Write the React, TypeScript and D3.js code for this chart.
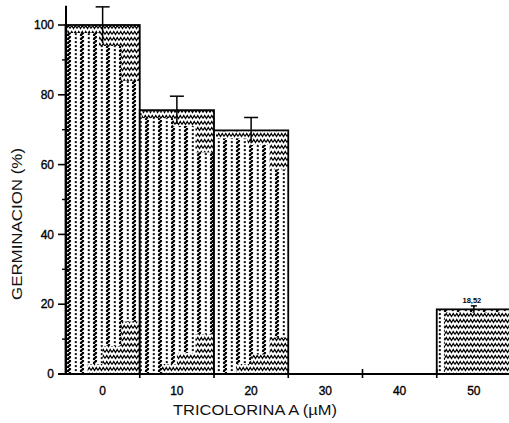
import React from "react";
import * as d3 from "d3";

const categories = ["0", "10", "20", "30", "40", "50"];
const values = [100, 75.6, 69.8, 0, 0, 18.52];
const errors = [5.2, 4.0, 3.7, 0, 0, 1.0];
const yTicks = [0, 20, 40, 60, 80, 100];
const yMinorTicks = [10, 30, 50, 70, 90];
const valueLabels = ["", "", "", "", "", "18,52"];

const W = 509;
const H = 423;

export default function App() {
  const x = d3.scaleBand<string>().domain(categories).range([65.5, 511]).padding(0);
  const y = d3.scaleLinear().domain([0, 100]).range([374, 25]);
  const bw = x.bandwidth();
  const font = "'Liberation Sans', Arial, sans-serif";

  const overlays = (bx: number, by: number, h: number) => {
    if (h < 120) {
      return [{ x: bx + 8, y: by + 3, w: bw - 8, h: h - 3 }];
    }
    return [
      { x: bx + 2, y: by + 1, w: bw - 2, h: 7 },
      { x: bx + bw * 0.45, y: by, w: bw * 0.55, h: h * 0.06 },
      { x: bx + bw * 0.75, y: by, w: bw * 0.25, h: h * 0.16 },
      { x: bx + bw * 0.3, y: by + h - 10, w: bw * 0.7, h: 10 },
      { x: bx + bw * 0.5, y: by + h - h * 0.08, w: bw * 0.5, h: h * 0.08 },
      { x: bx + bw * 0.75, y: by + h - h * 0.15, w: bw * 0.25, h: h * 0.15 },
    ];
  };

  return (
    <svg width={W} height={H} style={{ position: "absolute", left: 0, top: 0, background: "#fff" }}>
      <defs>
        <pattern id="wavy" width={13} height={4} patternUnits="userSpaceOnUse" x={66} y={0}>
          <rect width={13} height={4} fill="#fff" />
          <path d="M3,0 Q5.5,1 3,2 Q0.5,3 3,4" fill="none" stroke="#000" strokeWidth={1.9} />
          <rect x={8.8} y={1.1} width={2} height={2} fill="#111" />
        </pattern>
        <pattern id="zig" width={7} height={6} patternUnits="userSpaceOnUse">
          <rect width={7} height={6} fill="#fff" />
          <path d="M0,4.5 L1.75,1.5 L3.5,4.5 L5.25,1.5 L7,4.5" fill="none" stroke="#000" strokeWidth={1.3} />
        </pattern>
      </defs>

      {/* bars */}
      {categories.map((c, i) => {
        if (values[i] <= 0) return null;
        const bx = x(c)!;
        const by = y(values[i]);
        const h = y(0) - by;
        return (
          <g key={"bar" + c}>
            <rect x={bx} y={by} width={bw} height={h} fill="url(#wavy)" />
            {overlays(bx, by, h).map((o, k) => (
              <rect key={k} x={o.x} y={o.y} width={o.w} height={o.h} fill="url(#zig)" />
            ))}
            <rect x={bx} y={by} width={bw} height={h} fill="none" stroke="#000" strokeWidth={1.8} />
          </g>
        );
      })}

      {/* error bars */}
      {categories.map((c, i) =>
        values[i] > 0 && errors[i] > 0 ? (
          <g key={"err" + c} stroke="#000" strokeWidth={1.5}>
            <line
              x1={x(c)! + bw / 2}
              x2={x(c)! + bw / 2}
              y1={y(values[i] - errors[i])}
              y2={y(values[i] + errors[i])}
            />
            <line
              x1={x(c)! + bw / 2 - (i === 5 ? 3 : 7)}
              x2={x(c)! + bw / 2 + (i === 5 ? 3 : 7)}
              y1={y(values[i] + errors[i])}
              y2={y(values[i] + errors[i])}
            />
          </g>
        ) : null
      )}

      {/* value labels */}
      {categories.map((c, i) =>
        valueLabels[i] ? (
          <text
            key={"vl" + c}
            x={x(c)! + bw / 2 - 2}
            y={y(values[i] + errors[i]) - 3}
            textAnchor="middle"
            fontFamily={font}
            fontSize={7.5}
            fontWeight="bold"
          >
            {valueLabels[i]}
          </text>
        ) : null
      )}

      {/* y axis */}
      <line x1={66} x2={66} y1={y(0) + 1} y2={y(105.5)} stroke="#000" strokeWidth={2} />
      {yTicks.map((t) => (
        <g key={"yt" + t}>
          <line x1={58} x2={66} y1={y(t)} y2={y(t)} stroke="#000" strokeWidth={1.6} />
          <text
            x={54}
            y={y(t)}
            dy="0.35em"
            textAnchor="end"
            fontFamily={font}
            fontSize={12}
            fill="#000"
            stroke="#000"
            strokeWidth={0.35}
          >
            {t}
          </text>
        </g>
      ))}
      {yMinorTicks.map((t) => (
        <line key={"ym" + t} x1={62} x2={68} y1={y(t)} y2={y(t)} stroke="#000" strokeWidth={1.4} />
      ))}

      {/* x axis */}
      <line x1={58} x2={W} y1={y(0)} y2={y(0)} stroke="#000" strokeWidth={2} />
      {categories.slice(1).map((c) => (
        <line key={"xt" + c} x1={x(c)!} x2={x(c)!} y1={y(0) - 5} y2={y(0) + 4} stroke="#000" strokeWidth={1.6} />
      ))}
      {categories.map((c) => (
        <text
          key={"xl" + c}
          x={x(c)! + bw / 2}
          y={395}
          textAnchor="middle"
          fontFamily={font}
          fontSize={12}
          fill="#000"
          stroke="#000"
          strokeWidth={0.35}
        >
          {c}
        </text>
      ))}

      {/* axis titles */}
      <text
        x={255}
        y={415}
        textAnchor="middle"
        fontFamily={font}
        fontSize={14}
        textLength={164}
        lengthAdjust="spacingAndGlyphs"
        fill="#111"
      >
        TRICOLORINA A (µM)
      </text>
      <text
        transform={`translate(22,224) rotate(-90)`}
        textAnchor="middle"
        fontFamily={font}
        fontSize={14}
        textLength={152}
        lengthAdjust="spacingAndGlyphs"
        fill="#111"
      >
        GERMINACION (%)
      </text>
    </svg>
  );
}
